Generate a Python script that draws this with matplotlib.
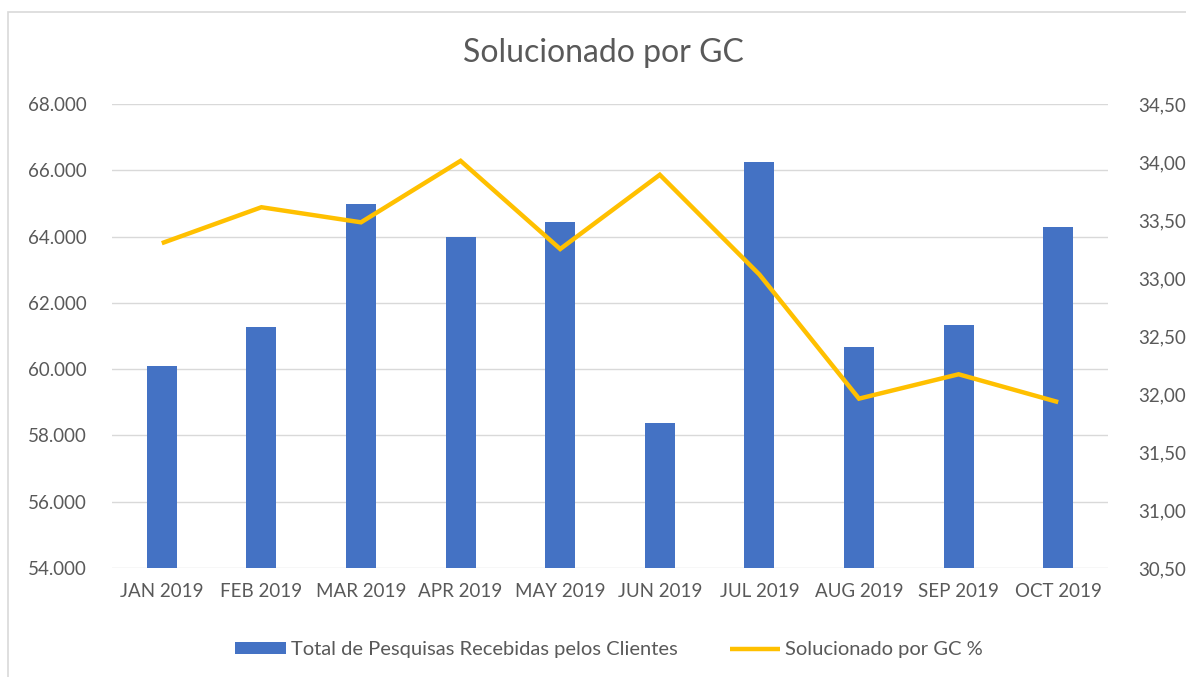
import matplotlib
matplotlib.use("Agg")
import matplotlib.pyplot as plt
from matplotlib.patches import Rectangle
from matplotlib.ticker import FuncFormatter
import numpy as np

months = ["JAN 2019", "FEB 2019", "MAR 2019", "APR 2019", "MAY 2019",
          "JUN 2019", "JUL 2019", "AUG 2019", "SEP 2019", "OCT 2019"]
total_pesquisas = [60100, 61270, 64980, 64000, 64450, 58380, 66260, 60680, 61320, 64280]
solucionado_pct = [33.30, 33.61, 33.48, 34.01, 33.25, 33.89, 33.03, 31.96, 32.17, 31.93]

plt.rcParams['font.family'] = ['Lato', 'DejaVu Sans']
txt = '#595959'
fs = 13.5

fig = plt.figure(figsize=(11.86, 6.77), dpi=100)
fig.patches.append(Rectangle((8/1186, -0.01), 1.0, 1 - 12/677 + 0.01,
                             transform=fig.transFigure, fill=False,
                             edgecolor='#D9D9D9', linewidth=1.2))

ax = fig.add_axes([112/1186, 1 - 568/677, (1108 - 112)/1186, (568 - 104)/677])
x = np.arange(len(months))
ax.bar(x, total_pesquisas, width=0.3, color='#4472C4', zorder=3,
       label='Total de Pesquisas Recebidas pelos Clientes')
ax.set_ylim(54000, 68000)
ax.set_yticks(np.arange(54000, 68001, 2000))
ax.yaxis.set_major_formatter(FuncFormatter(lambda v, p: f"{int(v):,}".replace(",", ".")))
ax.set_xlim(-0.5, len(months) - 0.5)
ax.set_xticks(x)
ax.set_xticklabels(months)
ax.grid(axis='y', color='#D9D9D9', linewidth=1.0, zorder=0)
for s in ax.spines.values():
    s.set_visible(False)
ax.tick_params(axis='both', length=0, colors=txt, labelsize=fs)
ax.tick_params(axis='x', pad=11)
ax.tick_params(axis='y', pad=18)

ax2 = ax.twinx()
ax2.plot(x, solucionado_pct, color='#FFC000', linewidth=3.2, zorder=4,
         solid_capstyle='butt', solid_joinstyle='miter', label='Solucionado por GC %')
ax2.set_ylim(30.5, 34.5)
ax2.set_yticks(np.arange(30.5, 34.51, 0.5))
ax2.yaxis.set_major_formatter(FuncFormatter(lambda v, p: f"{v:.2f}".replace(".", ",")))
for s in ax2.spines.values():
    s.set_visible(False)
ax2.tick_params(axis='y', length=0, colors=txt, labelsize=fs, pad=22)

fig.text(603/1186, 1 - 53/677, "Solucionado por GC", ha='center', va='center',
         fontsize=23, color=txt)

h1, l1 = ax.get_legend_handles_labels()
h2, l2 = ax2.get_legend_handles_labels()
fig.legend(h1 + h2, l1 + l2, loc='center', bbox_to_anchor=(609/1186, 1 - 650/677),
           ncol=2, frameon=False, fontsize=14.5, labelcolor=txt,
           handlelength=2.5, handleheight=0.55, handletextpad=0.25, columnspacing=2.6)

fig.savefig("out.png", dpi=100)
